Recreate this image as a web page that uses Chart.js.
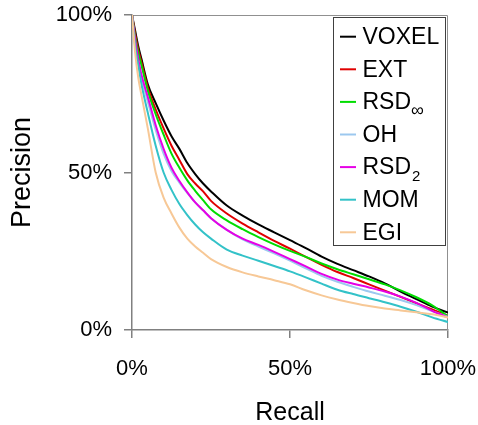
<!DOCTYPE html>
<html><head><meta charset="utf-8">
<script src="https://cdn.jsdelivr.net/npm/chart.js@4"></script>
<style>html,body{margin:0;padding:0;background:#fff;}#c{display:block;}</style>
</head><body>
<canvas id="c" width="478" height="425"></canvas>
<script>
// ---- data ----
const recall = [0,1,2,3,5,7.5,10,12.5,15,17.5,20,22.5,25,30,35,40,45,50,55,60,65,70,75,80,85,90,95,100];
const voxel  = [100,95,90,86,78,72,66.5,61.5,57.5,53,49.5,46.5,44,39.5,36.3,33.5,31,28.5,26,23.3,21,19,17,14.8,12.2,9.8,7.4,5.5];
const ext    = [100,94,89,85,77,70,64,58.5,54,49.5,46.5,44,41,37,33.8,31,28.3,25.8,23.2,20.7,18.4,16.5,14.5,12.5,10.5,8.5,6.5,4.5];
const rsdInf = [100,93,88,84,76,68.5,62,56,51.5,47.5,44.2,41.2,38.3,34.8,32,29.5,27.2,25.1,23.2,21.1,19.3,17.7,16.1,14.5,12.6,10.4,7.8,4.3];
const oh     = [100,91,85,80,72.5,63.5,56,50.5,46.8,43.5,40.5,38,35.5,31.8,28.8,26.5,24.3,22,19.6,17.2,15.3,13.7,12.2,10.9,9.5,7.9,6,4.2];
const rsd2   = [100,92,86,81,74,65,57.5,51.5,47.3,43.7,40.5,38,35.5,31.8,29,27,24.8,22.5,20.2,17.8,16,14.7,13.5,12.2,10.6,8.6,6.1,4];
const mom    = [100,90,84,78,69,58.5,50,44.5,40,36.5,33.5,31,29,25.5,23.6,22,20.3,18.6,16.7,14.7,12.8,11.4,10.1,8.8,7.4,5.8,4,2.5];
const egi    = [100,88,80,74.5,64,50,42,37,32.5,29,26.5,24.5,22.5,20,18.3,17,15.8,14.5,12.6,11,9.7,8.6,7.6,6.8,6.2,5.6,5,4];
const seriesNames  = ['VOXEL','EXT','RSD','OH','RSD','MOM','EGI'];
const seriesSubs   = ['','','\u221E','','2','',''];
const seriesValues = [voxel, ext, rsdInf, oh, rsd2, mom, egi];
const seriesColors = ['#000000','#e00000','#00dd00','#9cc8ef','#e600e6','#33c2c8','#f7c896'];
const xTicks = [0,50,100];
const yTicks = [0,50,100];
const xTitle = 'Recall';
const yTitle = 'Precision';

// ---- chart ----
const FONT = "'Liberation Sans', Arial, sans-serif";
Chart.defaults.font.family = FONT;
Chart.defaults.color = '#000';

const datasets = seriesValues.map((vals, i) => ({
  label: seriesNames[i] + seriesSubs[i],
  data: recall.map((r, j) => ({x: r, y: vals[j]})),
  borderColor: seriesColors[i],
  backgroundColor: seriesColors[i],
  borderWidth: 2,
  pointRadius: 0,
  fill: false,
  cubicInterpolationMode: 'monotone',
  order: seriesValues.length - i
}));

const framePlugin = {
  id: 'frame',
  beforeDatasetsDraw(chart) {
    const {ctx, chartArea: a} = chart;
    ctx.save();
    ctx.strokeStyle = '#909090';
    ctx.lineWidth = 1;
    ctx.beginPath();
    ctx.moveTo(a.left, a.top + 0.5);
    ctx.lineTo(a.right - 0.5, a.top + 0.5);
    ctx.lineTo(a.right - 0.5, a.bottom);
    ctx.stroke();
    ctx.restore();
  }
};

const legendPlugin = {
  id: 'subLegend',
  afterDraw(chart) {
    const {ctx, chartArea: a} = chart;
    const boxR = a.right - 2, boxL = boxR - 113, boxT = a.top + 2, boxB = boxT + 229;
    ctx.save();
    ctx.fillStyle = '#fff';
    ctx.fillRect(boxL, boxT, boxR - boxL, boxB - boxT);
    ctx.strokeStyle = '#404040';
    ctx.lineWidth = 1;
    ctx.strokeRect(boxL + 0.5, boxT + 0.5, boxR - boxL - 1, boxB - boxT - 1);
    const rowH = 32.6, y0 = boxT + 19.7;
    chart.data.datasets.forEach((ds, i) => {
      const y = y0 + i * rowH;
      ctx.strokeStyle = ds.borderColor;
      ctx.lineWidth = 2;
      ctx.beginPath();
      ctx.moveTo(boxL + 7, y);
      ctx.lineTo(boxL + 23, y);
      ctx.stroke();
      ctx.fillStyle = '#000';
      ctx.textAlign = 'left';
      ctx.textBaseline = 'middle';
      ctx.font = '23px ' + FONT;
      ctx.fillText(seriesNames[i], boxL + 29.5, y + 1);
      if (seriesSubs[i]) {
        const w = ctx.measureText(seriesNames[i]).width;
        const big = seriesSubs[i] === '\u221E';
        ctx.font = (big ? 18 : 15) + 'px ' + FONT;
        ctx.fillText(seriesSubs[i], boxL + 29.5 + w + (big ? 0 : 1), y + (big ? 9 : 10));
      }
    });
    ctx.restore();
  }
};

new Chart(document.getElementById('c'), {
  type: 'line',
  data: {datasets},
  options: {
    responsive: false,
    animation: false,
    events: [],
    layout: {padding: {top: 15, right: 30, left: 0, bottom: 0}},
    plugins: {legend: {display: false}, tooltip: {enabled: false}},
    scales: {
      x: {
        type: 'linear', position: 'bottom', min: 0, max: 100,
        afterBuildTicks: s => { s.ticks = xTicks.map(v => ({value: v})); },
        afterFit: s => { s.height = 95; s.paddingRight = 0; s.paddingLeft = 0; },
        border: {display: true, color: '#808080', width: 1.5},
        grid: {drawOnChartArea: false, drawTicks: true, tickLength: 8, color: '#808080', lineWidth: 1.5},
        ticks: {callback: v => v + '%', font: {size: 22}, padding: 18, maxRotation: 0, color: '#000'},
        title: {display: true, text: xTitle, font: {size: 25, lineHeight: 0.92}, padding: {top: 0, bottom: 0}, color: '#000'}
      },
      y: {
        type: 'linear', position: 'left', min: 0, max: 100,
        afterBuildTicks: s => { s.ticks = yTicks.map(v => ({value: v})); },
        afterFit: s => { s.width = 132; s.paddingTop = 0; s.paddingBottom = 0; },
        border: {display: true, color: '#808080', width: 1.5},
        grid: {drawOnChartArea: false, drawTicks: true, tickLength: 8, color: '#808080', lineWidth: 1.5},
        ticks: {callback: v => v + '%', font: {size: 22}, padding: 12, color: '#000'},
        title: {display: true, text: yTitle, font: {size: 27}, padding: {top: 6, bottom: 0}, color: '#000'}
      }
    }
  },
  plugins: [framePlugin, legendPlugin]
});
</script>
</body></html>
